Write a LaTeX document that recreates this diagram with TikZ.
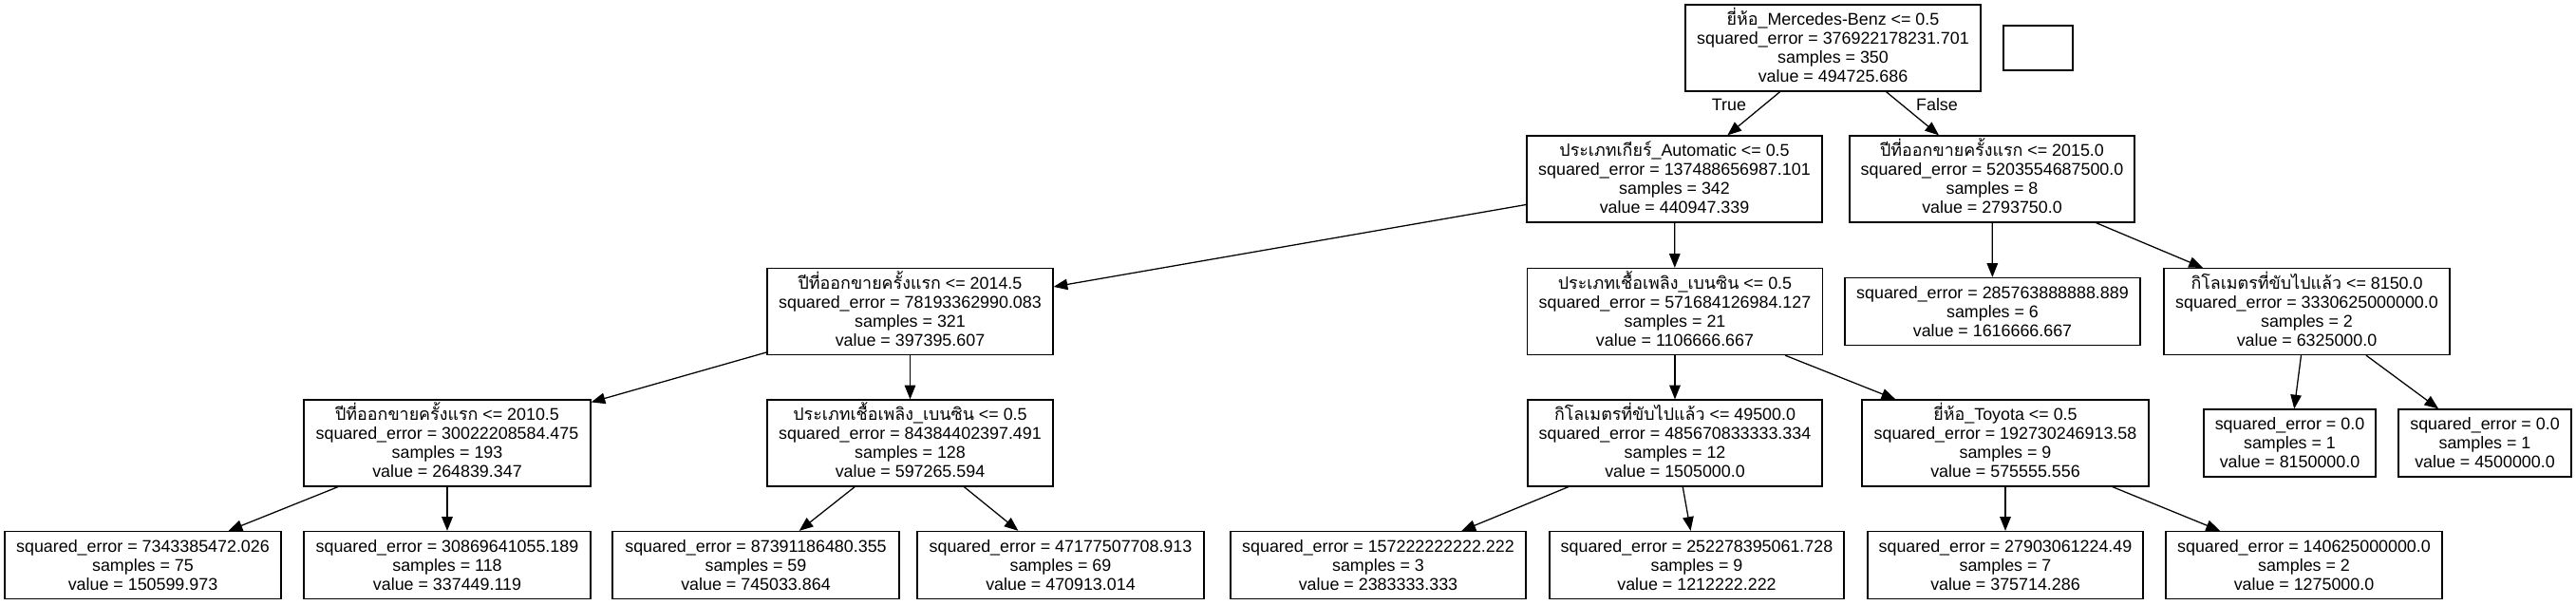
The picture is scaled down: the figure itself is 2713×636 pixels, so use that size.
\documentclass[tikz,border=0pt]{standalone}
\usepackage{fontspec}
\setmainfont{Liberation Sans}
\newfontfamily\thaifont[Script=Thai]{Loma}
\usetikzlibrary{arrows.meta}
\newcommand{\thx}[1]{\smash{\thaifont #1}}
\tikzset{
  tbox/.style={draw=black, line width=0.95pt, rectangle, align=center,
    inner xsep=1pt, inner ysep=0pt, minimum width=#1*0.75pt,
    minimum height=68.25pt, font=\fontsize{13.4pt}{15pt}\selectfont},
  lbox/.style={tbox=#1, minimum height=53.25pt},
  edgelbl/.style={font=\fontsize{13.4pt}{15pt}\selectfont, inner sep=0pt},
  edge/.style={draw=black, line width=0.95pt, -{Triangle[length=11pt,width=8.6pt]}}
}
\begin{document}
\begin{tikzpicture}[x=0.75pt,y=-0.75pt]
\useasboundingbox (0,0) rectangle (2713,636);
% level 0
\node[tbox=311] (root) at (1930.5,50.5) {\thx{ยี่ห้อ}\_Mercedes-Benz <= 0.5\\squared\_error = 376922178231.701\\samples = 350\\value = 494725.686};
\node[draw=black, line width=0.95pt, minimum width=54.75pt, minimum height=35.25pt, inner sep=0pt] (blank) at (2146.5,50.5) {};
% level 1
\node[tbox=311] (auto) at (1763.5,188.5) {\thx{ประเภทเกียร์}\_Automatic <= 0.5\\squared\_error = 137488656987.101\\samples = 342\\value = 440947.339};
\node[tbox=300] (y2015) at (2098,188.5) {\thx{ปีที่ออกขายครั้งแรก} <= 2015.0\\squared\_error = 5203554687500.0\\samples = 8\\value = 2793750.0};
% level 2
\node[tbox=301] (y2014) at (958.5,328) {\thx{ปีที่ออกขายครั้งแรก} <= 2014.5\\squared\_error = 78193362990.083\\samples = 321\\value = 397395.607};
\node[tbox=311] (fuel21) at (1764,328) {\thx{ประเภทเชื้อเพลิง}\_\thx{เบนซิน} <= 0.5\\squared\_error = 571684126984.127\\samples = 21\\value = 1106666.667};
\node[lbox=311] (leaf6) at (2098.5,328) {squared\_error = 285763888888.889\\samples = 6\\value = 1616666.667};
\node[tbox=301] (km8150) at (2429.5,328) {\thx{กิโลเมตรที่ขับไปแล้ว} <= 8150.0\\squared\_error = 3330625000000.0\\samples = 2\\value = 6325000.0};
% level 3
\node[tbox=302] (y2010) at (471,466.5) {\thx{ปีที่ออกขายครั้งแรก} <= 2010.5\\squared\_error = 30022208584.475\\samples = 193\\value = 264839.347};
\node[tbox=301] (fuel128) at (958.5,466.5) {\thx{ประเภทเชื้อเพลิง}\_\thx{เบนซิน} <= 0.5\\squared\_error = 84384402397.491\\samples = 128\\value = 597265.594};
\node[tbox=310] (km49500) at (1764,466.5) {\thx{กิโลเมตรที่ขับไปแล้ว} <= 49500.0\\squared\_error = 485670833333.334\\samples = 12\\value = 1505000.0};
\node[tbox=302] (toyota) at (2112,466.5) {\thx{ยี่ห้อ}\_Toyota <= 0.5\\squared\_error = 192730246913.58\\samples = 9\\value = 575555.556};
\node[lbox=181] (leafA) at (2411.5,466.5) {squared\_error = 0.0\\samples = 1\\value = 8150000.0};
\node[lbox=182] (leafB) at (2617,466.5) {squared\_error = 0.0\\samples = 1\\value = 4500000.0};
% level 4
\node[lbox=291] (l75) at (150.5,595) {squared\_error = 7343385472.026\\samples = 75\\value = 150599.973};
\node[lbox=302] (l118) at (471,595) {squared\_error = 30869641055.189\\samples = 118\\value = 337449.119};
\node[lbox=302] (l59) at (796,595) {squared\_error = 87391186480.355\\samples = 59\\value = 745033.864};
\node[lbox=302] (l69) at (1117,595) {squared\_error = 47177507708.913\\samples = 69\\value = 470913.014};
\node[lbox=311] (l3) at (1451.5,595) {squared\_error = 157222222222.222\\samples = 3\\value = 2383333.333};
\node[lbox=310] (l9) at (1787,595) {squared\_error = 252278395061.728\\samples = 9\\value = 1212222.222};
\node[lbox=290] (l7) at (2112,595) {squared\_error = 27903061224.49\\samples = 7\\value = 375714.286};
\node[lbox=291] (l2) at (2426.5,595) {squared\_error = 140625000000.0\\samples = 2\\value = 1275000.0};
% edge labels
\node[edgelbl] (ltrue) at (1821,110) {True};
\node[edgelbl] (lfalse) at (2040,110) {False};
% edges
\draw[edge] (root) -- (auto);
\draw[edge] (root) -- (y2015);
\draw[edge] (auto) -- (y2014);
\draw[edge] (auto) -- (fuel21);
\draw[edge] (y2015) -- (leaf6);
\draw[edge] (y2015) -- (km8150);
\draw[edge] (y2014) -- (y2010);
\draw[edge] (y2014) -- (fuel128);
\draw[edge] (fuel21) -- (km49500);
\draw[edge] (fuel21) -- (toyota);
\draw[edge] (km8150) -- (leafA);
\draw[edge] (km8150) -- (leafB);
\draw[edge] (y2010) -- (l75);
\draw[edge] (y2010) -- (l118);
\draw[edge] (fuel128) -- (l59);
\draw[edge] (fuel128) -- (l69);
\draw[edge] (km49500) -- (l3);
\draw[edge] (km49500) -- (l9);
\draw[edge] (toyota) -- (l7);
\draw[edge] (toyota) -- (l2);
\end{tikzpicture}
\end{document}
